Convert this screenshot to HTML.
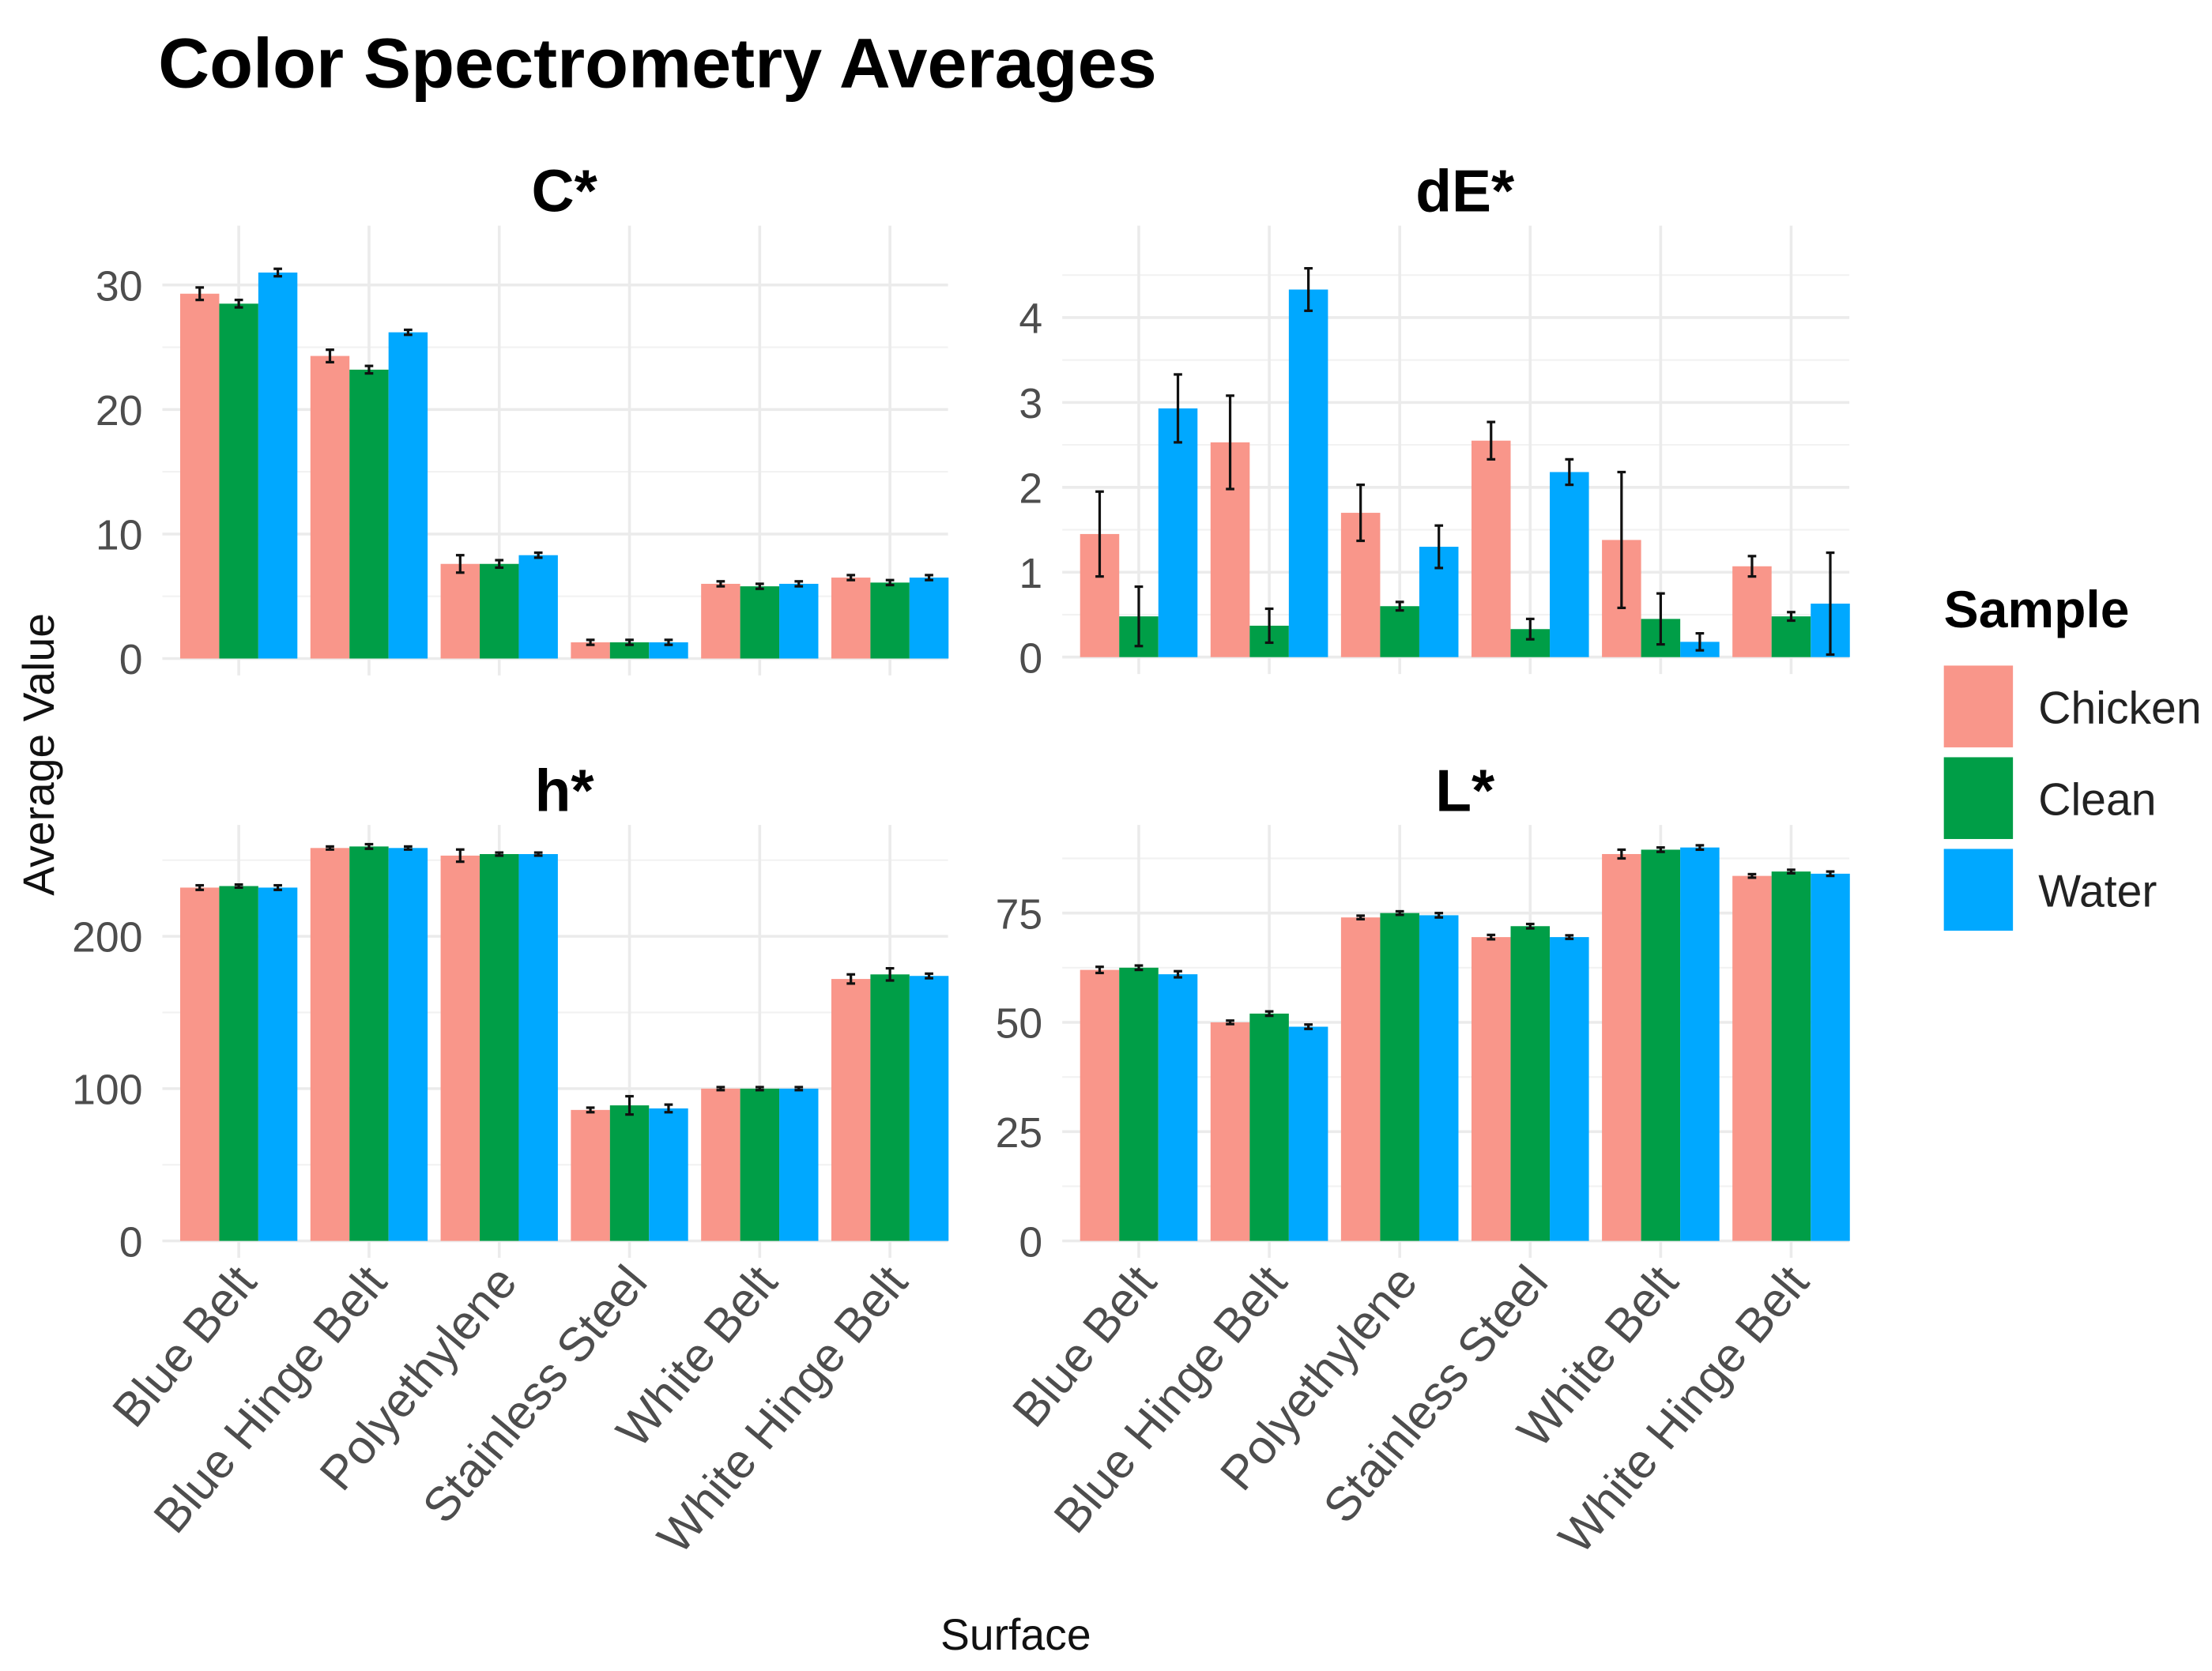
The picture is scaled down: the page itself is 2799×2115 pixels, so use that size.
<!DOCTYPE html>
<html><head><meta charset="utf-8"><style>
html,body{margin:0;padding:0;background:#fff;}
svg{display:block;font-family:"Liberation Sans",sans-serif;}
</style></head><body>
<svg id="chart" width="2799" height="2115" viewBox="0 0 1568 1185" xmlns="http://www.w3.org/2000/svg">
<text x="112" y="62" font-size="50" font-weight="bold" fill="#000" textLength="708" lengthAdjust="spacingAndGlyphs">Color Spectrometry Averages</text>
<text transform="translate(38,535) rotate(-90)" text-anchor="middle" font-size="31" fill="#111">Average Value</text>
<text x="720" y="1170" text-anchor="middle" font-size="31" fill="#111">Surface</text>
<g id="legend">
<text x="1378" y="445" font-size="37" font-weight="bold" fill="#000">Sample</text>
</g>
<g id="panels"></g>
</svg>
<script>
const categories = ["Blue Belt","Blue Hinge Belt","Polyethylene","Stainless Steel","White Belt","White Hinge Belt"];
const seriesNames = ["Chicken","Clean","Water"];
const colors = ["#F9968A","#009E47","#00A8FF"];

const cChicken = [29.3,24.3,7.6,1.3,6.0,6.5];
const cClean   = [28.5,23.2,7.6,1.3,5.8,6.1];
const cWater   = [31.0,26.2,8.3,1.3,6.0,6.5];
const cErr = [[0.5,0.5,0.7,0.2,0.2,0.2],[0.3,0.3,0.3,0.2,0.2,0.2],[0.3,0.2,0.2,0.2,0.2,0.2]];

const dChicken = [1.45,2.53,1.70,2.55,1.38,1.07];
const dClean   = [0.48,0.37,0.60,0.33,0.45,0.48];
const dWater   = [2.93,4.33,1.30,2.18,0.18,0.63];
const dErr = [[0.5,0.55,0.33,0.22,0.8,0.12],[0.35,0.2,0.05,0.12,0.3,0.05],[0.4,0.25,0.25,0.15,0.1,0.6]];

const hChicken = [232,258,253,86,100,172];
const hClean   = [233,259,254,89,100,175];
const hWater   = [232,258,254,87,100,174];
const hErr = [[1.5,1,4,1.5,1,3],[1,1.5,1,6,1,4],[1.5,1,1,2.5,1,1.5]];

const lChicken = [62,50,74,69.5,88.5,83.5];
const lClean   = [62.5,52,75,72,89.5,84.5];
const lWater   = [61,49,74.5,69.5,90,84];
const lErr = [[0.7,0.4,0.4,0.5,1,0.4],[0.5,0.5,0.4,0.5,0.5,0.4],[0.7,0.5,0.5,0.4,0.5,0.5]];

const cTicks = [0,10,20,30];
const dTicks = [0,1,2,3,4];
const hTicks = [0,100,200];
const lTicks = [0,25,50,75];

const panels = [
 {name:"C*", key:"c", vals:[cChicken,cClean,cWater], err:cErr, ticks:cTicks, max:32.5, x0:123, x1:677, y0:467, yTop:160, ppu:8.83, showX:false},
 {name:"dE*", key:"de", vals:[dChicken,dClean,dWater], err:dErr, ticks:dTicks, max:4.9, x0:761, x1:1316, y0:466, yTop:160, ppu:60.2, showX:false},
 {name:"h*", key:"h", vals:[hChicken,hClean,hWater], err:hErr, ticks:hTicks, max:270, x0:123, x1:677, y0:880, yTop:585, ppu:1.08, showX:true},
 {name:"L*", key:"l", vals:[lChicken,lClean,lWater], err:lErr, ticks:lTicks, max:94, x0:761, x1:1316, y0:880, yTop:585, ppu:3.1, showX:true}
];
const NS="http://www.w3.org/2000/svg";
const root=document.getElementById('panels');
function mk(tag,attrs,parent){const e=document.createElementNS(NS,tag);for(const k in attrs)e.setAttribute(k,attrs[k]);parent.appendChild(e);return e;}

panels.forEach(p=>{
  const g=mk('g',{},root);
  
  
  const step=(p.x1-p.x0)/categories.length;
  const xc=i=>p.x0+step*(i+0.5);
  const y=v=>p.y0-v*p.ppu;
  for(let i=0;i<p.ticks.length;i++){
    const t=p.ticks[i];
    const tn=i+1<p.ticks.length?p.ticks[i+1]:t+(p.ticks[1]-p.ticks[0]);
    const mv=(t+tn)/2;
    if(mv<=p.max){const l=mk('line',{x1:p.x0-8,x2:p.x1-5,y1:y(mv),y2:y(mv),stroke:"#f2f2f2","stroke-width":1.2},g);
      }
  }
  p.ticks.forEach(t=>{
    const l=mk('line',{x1:p.x0-8,x2:p.x1-5,y1:y(t),y2:y(t),stroke:"#ebebeb","stroke-width":2},g);
    
    
    const tx=mk('text',{x:p.x0-22,y:y(t)+11,"text-anchor":"end","font-size":30,fill:"#4d4d4d"},g);
    
    
    tx.textContent=t;
  });
  categories.forEach((c,i)=>{
    const l=mk('line',{x1:xc(i),x2:xc(i),y1:p.yTop,y2:p.y0+12,stroke:"#ebebeb","stroke-width":2},g);
    
    
  });
  const tt=mk('text',{x:(p.x0+p.x1)/2,y:p.yTop-10,"text-anchor":"middle","font-size":42,"font-weight":"bold",fill:"#000"},g);
  
  
  tt.textContent=p.name;
  const bw=step*0.9/3;
  categories.forEach((c,i)=>{
    p.vals.forEach((s,j)=>{
      const bx=xc(i)-step*0.45+bw*j;
      const v=s[i];
      const r=mk('rect',{x:bx,y:y(v),width:bw,height:v*p.ppu,fill:colors[j]},g);
      
      
      const e=p.err[j][i];const cx=bx+bw/2;
      const eg=mk('g',{stroke:"#111","stroke-width":1.8},g);
      
      
      mk('line',{x1:cx,x2:cx,y1:y(v+e),y2:y(Math.max(0,v-e))},eg);
      mk('line',{x1:cx-3,x2:cx+3,y1:y(v+e),y2:y(v+e)},eg);
      mk('line',{x1:cx-3,x2:cx+3,y1:y(Math.max(0,v-e)),y2:y(Math.max(0,v-e))},eg);
    });
    if(p.showX){
      const tx=mk('text',{transform:`translate(${xc(i)+14},${p.y0+30}) rotate(-50)`,"text-anchor":"end","font-size":34,fill:"#4d4d4d"},g);
      
      
      tx.textContent=c;
    }
  });
});
const lg=document.getElementById('legend');
seriesNames.forEach((n,j)=>{
  const r=mk('rect',{x:1378,y:472+j*65,width:49,height:58,fill:colors[j]},lg);
  
  
  const t=mk('text',{x:1445,y:513+j*65,"font-size":32,fill:"#222"},lg);
  
  
  t.textContent=n;
});
</script>
</body></html>
